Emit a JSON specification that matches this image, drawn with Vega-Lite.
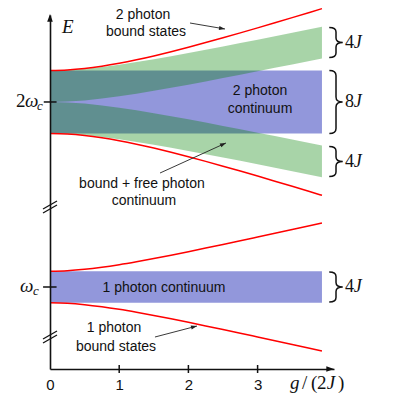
{
  "$schema": "https://vega.github.io/schema/vega-lite/v6.json",
  "width": 284,
  "height": 354,
  "autosize": {"type": "none"},
  "padding": {"left": 50, "top": 15, "right": 65, "bottom": 34},
  "background": "white",
  "config": {"view": {"stroke": null}},
  "datasets": {
    "curves": [
      {"x": 0, "p1hi": 2, "p1lo": -2, "p2hi": 27.42, "p2lo": 19.42},
      {"x": 0.25, "p1hi": 2.062, "p1lo": -2.062, "p2hi": 27.482, "p2lo": 19.358},
      {"x": 0.5, "p1hi": 2.236, "p1lo": -2.236, "p2hi": 27.663, "p2lo": 19.177},
      {"x": 0.75, "p1hi": 2.5, "p1lo": -2.5, "p2hi": 27.948, "p2lo": 18.892},
      {"x": 1, "p1hi": 2.828, "p1lo": -2.828, "p2hi": 28.319, "p2lo": 18.521},
      {"x": 1.25, "p1hi": 3.202, "p1lo": -3.202, "p2hi": 28.759, "p2lo": 18.081},
      {"x": 1.5, "p1hi": 3.606, "p1lo": -3.606, "p2hi": 29.251, "p2lo": 17.589},
      {"x": 1.75, "p1hi": 4.031, "p1lo": -4.031, "p2hi": 29.784, "p2lo": 17.056},
      {"x": 2, "p1hi": 4.472, "p1lo": -4.472, "p2hi": 30.348, "p2lo": 16.492},
      {"x": 2.25, "p1hi": 4.924, "p1lo": -4.924, "p2hi": 30.937, "p2lo": 15.903},
      {"x": 2.5, "p1hi": 5.385, "p1lo": -5.385, "p2hi": 31.544, "p2lo": 15.296},
      {"x": 2.75, "p1hi": 5.852, "p1lo": -5.852, "p2hi": 32.166, "p2lo": 14.674},
      {"x": 3, "p1hi": 6.325, "p1lo": -6.325, "p2hi": 32.801, "p2lo": 14.039},
      {"x": 3.25, "p1hi": 6.801, "p1lo": -6.801, "p2hi": 33.445, "p2lo": 13.395},
      {"x": 3.5, "p1hi": 7.28, "p1lo": -7.28, "p2hi": 34.097, "p2lo": 12.743},
      {"x": 3.75, "p1hi": 7.762, "p1lo": -7.762, "p2hi": 34.756, "p2lo": 12.084},
      {"x": 3.93, "p1hi": 8.11, "p1lo": -8.11, "p2hi": 35.233, "p2lo": 11.607}
    ],
    "green": [
      {"band": "u", "x": 0, "y": 23.42, "y2": 27.42},
      {"band": "u", "x": 0.25, "y": 23.472, "y2": 27.472},
      {"band": "u", "x": 0.5, "y": 23.622, "y2": 27.622},
      {"band": "u", "x": 0.75, "y": 23.852, "y2": 27.852},
      {"band": "u", "x": 1, "y": 24.14, "y2": 28.14},
      {"band": "u", "x": 1.25, "y": 24.472, "y2": 28.472},
      {"band": "u", "x": 1.5, "y": 24.833, "y2": 28.833},
      {"band": "u", "x": 1.75, "y": 25.216, "y2": 29.216},
      {"band": "u", "x": 2, "y": 25.615, "y2": 29.615},
      {"band": "u", "x": 2.25, "y": 26.026, "y2": 30.026},
      {"band": "u", "x": 2.5, "y": 26.445, "y2": 30.445},
      {"band": "u", "x": 2.75, "y": 26.871, "y2": 30.871},
      {"band": "u", "x": 3, "y": 27.302, "y2": 31.302},
      {"band": "u", "x": 3.25, "y": 27.738, "y2": 31.738},
      {"band": "u", "x": 3.5, "y": 28.176, "y2": 32.176},
      {"band": "u", "x": 3.75, "y": 28.618, "y2": 32.618},
      {"band": "u", "x": 3.93, "y": 28.937, "y2": 32.937},
      {"band": "l", "x": 0, "y": 19.42, "y2": 23.42},
      {"band": "l", "x": 0.25, "y": 19.368, "y2": 23.368},
      {"band": "l", "x": 0.5, "y": 19.218, "y2": 23.218},
      {"band": "l", "x": 0.75, "y": 18.988, "y2": 22.988},
      {"band": "l", "x": 1, "y": 18.7, "y2": 22.7},
      {"band": "l", "x": 1.25, "y": 18.368, "y2": 22.368},
      {"band": "l", "x": 1.5, "y": 18.007, "y2": 22.007},
      {"band": "l", "x": 1.75, "y": 17.624, "y2": 21.624},
      {"band": "l", "x": 2, "y": 17.225, "y2": 21.225},
      {"band": "l", "x": 2.25, "y": 16.814, "y2": 20.814},
      {"band": "l", "x": 2.5, "y": 16.395, "y2": 20.395},
      {"band": "l", "x": 2.75, "y": 15.969, "y2": 19.969},
      {"band": "l", "x": 3, "y": 15.538, "y2": 19.538},
      {"band": "l", "x": 3.25, "y": 15.102, "y2": 19.102},
      {"band": "l", "x": 3.5, "y": 14.664, "y2": 18.664},
      {"band": "l", "x": 3.75, "y": 14.222, "y2": 18.222},
      {"band": "l", "x": 3.93, "y": 13.903, "y2": 17.903}
    ],
    "segs": [
      {"kind": "tick", "x": 1, "y": -10.886, "x2": 1, "y2": -9.874},
      {"kind": "tick", "x": 2, "y": -10.886, "x2": 2, "y2": -9.874},
      {"kind": "tick", "x": 3, "y": -10.886, "x2": 3, "y2": -9.874},
      {"kind": "tick", "x": -0.09, "y": 23.42, "x2": 0.095, "y2": 23.42},
      {"kind": "tick", "x": -0.1, "y": 0, "x2": 0.095, "y2": 0},
      {"kind": "break", "x": -0.101, "y": 9.874, "x2": 0.101, "y2": 10.886},
      {"kind": "break", "x": -0.101, "y": 9.364, "x2": 0.101, "y2": 10.376},
      {"kind": "break", "x": -0.101, "y": -6.586, "x2": 0.101, "y2": -5.574},
      {"kind": "break", "x": -0.101, "y": -7.086, "x2": 0.101, "y2": -6.074},
      {"kind": "arrow", "x": 2.023, "y": 33.417, "x2": 2.529, "y2": 32.658},
      {"kind": "arrow", "x": 1.59, "y": 14.43, "x2": 2.543, "y2": 18.23},
      {"kind": "arrow", "x": 1.517, "y": -6.33, "x2": 2.124, "y2": -4.94}
    ],
    "labels": [
      {"grp": "sans", "text": "2 photon", "x": 1.344, "y": 34.43},
      {"grp": "sans", "text": "bound states", "x": 1.387, "y": 32.28},
      {"grp": "sans", "text": "2 photon", "x": 3.035, "y": 24.81},
      {"grp": "sans", "text": "continuum", "x": 3.035, "y": 22.53},
      {"grp": "sans", "text": "bound + free photon", "x": 1.329, "y": 13.04},
      {"grp": "sans", "text": "continuum", "x": 1.358, "y": 10.89},
      {"grp": "sans", "text": "1 photon continuum", "x": 1.647, "y": -0.13},
      {"grp": "sans", "text": "1 photon", "x": 0.925, "y": -5.19},
      {"grp": "sans", "text": "bound states", "x": 0.954, "y": -7.59},
      {"grp": "up18", "text": "2", "x": -0.491, "y": 22.78},
      {"grp": "up18", "text": "/", "x": 3.64, "y": -12.91},
      {"grp": "up18", "text": "(", "x": 3.77, "y": -12.91},
      {"grp": "up18", "text": "2", "x": 3.86, "y": -12.91},
      {"grp": "up18", "text": ")", "x": 4.16, "y": -12.91},
      {"grp": "it18", "text": "ω", "x": -0.361, "y": 22.78},
      {"grp": "it18", "text": "ω", "x": -0.434, "y": -0.64},
      {"grp": "it18", "text": "g", "x": 3.468, "y": -12.91},
      {"grp": "it18", "text": "J", "x": 4.0, "y": -12.91},
      {"grp": "it18", "text": "E", "x": 0.173, "y": 32.15},
      {"grp": "it12", "text": "c", "x": -0.188, "y": 22.4},
      {"grp": "it12", "text": "c", "x": -0.246, "y": -1.01},
      {"grp": "up15", "text": "4", "x": 4.263, "y": 30.22},
      {"grp": "up15", "text": "8", "x": 4.263, "y": 22.82},
      {"grp": "up15", "text": "4", "x": 4.263, "y": 15.23},
      {"grp": "up15", "text": "4", "x": 4.263, "y": -0.57},
      {"grp": "it15", "text": "J", "x": 4.39, "y": 30.22},
      {"grp": "it15", "text": "J", "x": 4.39, "y": 22.82},
      {"grp": "it15", "text": "J", "x": 4.39, "y": 15.23},
      {"grp": "it15", "text": "J", "x": 4.39, "y": -0.57}
    ]
  },
  "encoding": {
    "x": {
      "field": "x", "type": "quantitative",
      "scale": {"domain": [0, 4.104], "nice": false, "zero": false},
      "axis": {"values": [0, 1, 2, 3], "ticks": false, "grid": false, "title": null, "domainColor": "#111", "domainWidth": 1.6, "labelFont": "Liberation Sans", "labelFontSize": 15, "labelColor": "#111", "labelPadding": 8, "labelFlush": false, "zindex": 1}
    },
    "y": {
      "field": "y", "type": "quantitative",
      "scale": {"domain": [-10.38, 34.43], "nice": false, "zero": false},
      "axis": {"labels": false, "ticks": false, "grid": false, "title": null, "domainColor": "#111", "domainWidth": 1.6, "zindex": 1}
    }
  },
  "layer": [
    {
      "data": {"values": [{"x": 0, "x2": 3.93, "y": 19.42, "y2": 27.42}, {"x": 0, "x2": 3.93, "y": -2, "y2": 2}]},
      "mark": {"type": "rect", "color": "#9297db", "opacity": 1},
      "encoding": {"x2": {"field": "x2"}, "y2": {"field": "y2"}}
    },
    {
      "data": {"name": "green"},
      "mark": {"type": "area", "color": "#008000", "opacity": 0.34},
      "encoding": {"y2": {"field": "y2"}, "detail": {"field": "band"}}
    },
    {
      "data": {"name": "curves"},
      "transform": [{"fold": ["p1hi", "p1lo", "p2hi", "p2lo"], "as": ["curve", "y"]}],
      "mark": {"type": "line", "color": "#ff0000", "strokeWidth": 1.5, "interpolate": "monotone"},
      "encoding": {"detail": {"field": "curve"}}
    },
    {
      "data": {"name": "segs"},
      "transform": [{"filter": "datum.kind === 'tick'"}],
      "mark": {"type": "rule", "color": "#111", "strokeWidth": 1.5},
      "encoding": {"x2": {"field": "x2"}, "y2": {"field": "y2"}}
    },
    {
      "data": {"name": "segs"},
      "transform": [{"filter": "datum.kind === 'break'"}],
      "mark": {"type": "rule", "color": "#111", "strokeWidth": 1.3},
      "encoding": {"x2": {"field": "x2"}, "y2": {"field": "y2"}}
    },
    {
      "data": {"name": "segs"},
      "transform": [{"filter": "datum.kind === 'arrow'"}],
      "mark": {"type": "rule", "color": "#222", "strokeWidth": 0.9},
      "encoding": {"x2": {"field": "x2"}, "y2": {"field": "y2"}}
    },
    {
      "data": {"values": [{"x": 2.529, "y": 32.658}]},
      "mark": {"type": "point", "shape": "M0,0L-2,-0.7L-2,0.7Z", "filled": true, "color": "#222", "opacity": 1, "size": 36, "angle": 9.7}
    },
    {
      "data": {"values": [{"x": 2.543, "y": 18.23}]},
      "mark": {"type": "point", "shape": "M0,0L-2,-0.7L-2,0.7Z", "filled": true, "color": "#222", "opacity": 1, "size": 36, "angle": 335.6}
    },
    {
      "data": {"values": [{"x": 2.124, "y": -4.94}]},
      "mark": {"type": "point", "shape": "M0,0L-2,-0.7L-2,0.7Z", "filled": true, "color": "#222", "opacity": 1, "size": 36, "angle": 345.3}
    },
    {
      "data": {"values": [{"x": 0, "y": 34.56}]},
      "mark": {"type": "point", "shape": "M0,0L-2.2,-0.8L-2.2,0.8Z", "filled": true, "color": "#111", "opacity": 1, "size": 49, "angle": 270}
    },
    {
      "data": {"values": [{"x": 4.104, "y": -10.38}]},
      "mark": {"type": "point", "shape": "M0,0L-2.2,-0.8L-2.2,0.8Z", "filled": true, "color": "#111", "opacity": 1, "size": 49, "angle": 0}
    },
    {
      "data": {"values": [{"x": 4.133, "y": 30.94}, {"x": 4.133, "y": 15.9}, {"x": 4.133, "y": 0}]},
      "mark": {"type": "point", "shape": "M-0.45,-1C-0.15,-1 0,-0.9 0,-0.7L0,-0.3C0,-0.1 0.15,0 0.45,0C0.15,0 0,0.1 0,0.3L0,0.7C0,0.9 -0.15,1 -0.45,1", "filled": false, "color": "#111", "strokeWidth": 1.5, "opacity": 1, "size": 900}
    },
    {
      "data": {"values": [{"x": 4.133, "y": 23.42}]},
      "mark": {"type": "point", "shape": "M-0.21,-1C-0.07,-1 0,-0.95 0,-0.84L0,-0.16C0,-0.05 0.07,0 0.21,0C0.07,0 0,0.05 0,0.16L0,0.84C0,0.95 -0.07,1 -0.21,1", "filled": false, "color": "#111", "strokeWidth": 1.5, "opacity": 1, "size": 3969}
    },
    {
      "data": {"name": "labels"},
      "transform": [{"filter": "datum.grp === 'sans'"}],
      "mark": {"type": "text", "font": "Liberation Sans", "fontSize": 14, "color": "#111", "align": "center", "baseline": "middle"},
      "encoding": {"text": {"field": "text"}}
    },
    {
      "data": {"name": "labels"},
      "transform": [{"filter": "datum.grp === 'up18'"}],
      "mark": {"type": "text", "font": "Liberation Serif", "fontSize": 19, "color": "#111", "align": "left", "baseline": "alphabetic"},
      "encoding": {"text": {"field": "text"}}
    },
    {
      "data": {"name": "labels"},
      "transform": [{"filter": "datum.grp === 'it18'"}],
      "mark": {"type": "text", "font": "Liberation Serif", "fontStyle": "italic", "fontSize": 19, "color": "#111", "align": "left", "baseline": "alphabetic"},
      "encoding": {"text": {"field": "text"}}
    },
    {
      "data": {"name": "labels"},
      "transform": [{"filter": "datum.grp === 'it12'"}],
      "mark": {"type": "text", "font": "Liberation Serif", "fontStyle": "italic", "fontSize": 13, "color": "#111", "align": "left", "baseline": "alphabetic"},
      "encoding": {"text": {"field": "text"}}
    },
    {
      "data": {"name": "labels"},
      "transform": [{"filter": "datum.grp === 'up15'"}],
      "mark": {"type": "text", "font": "Liberation Serif", "fontSize": 18, "color": "#111", "align": "left", "baseline": "alphabetic"},
      "encoding": {"text": {"field": "text"}}
    },
    {
      "data": {"name": "labels"},
      "transform": [{"filter": "datum.grp === 'it15'"}],
      "mark": {"type": "text", "font": "Liberation Serif", "fontStyle": "italic", "fontSize": 18, "color": "#111", "align": "left", "baseline": "alphabetic"},
      "encoding": {"text": {"field": "text"}}
    }
  ]
}
